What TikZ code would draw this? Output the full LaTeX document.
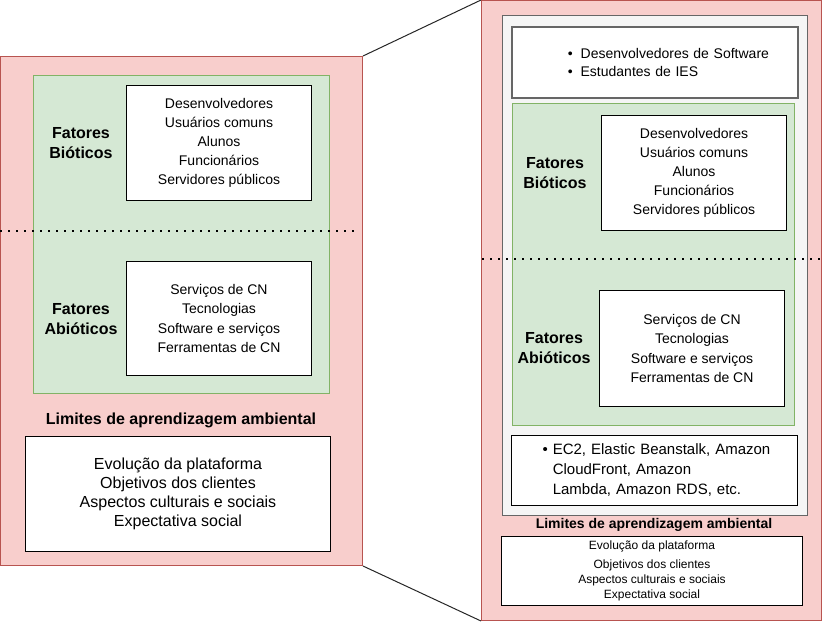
\documentclass[tikz,border=0pt]{standalone}
\usepackage{fontspec}
\setmainfont{Liberation Sans}

\definecolor{pinkfill}{HTML}{F8CECC}
\definecolor{pinkline}{HTML}{B85450}
\definecolor{greenfill}{HTML}{D5E8D4}
\definecolor{greenline}{HTML}{82B366}
\definecolor{grayfill}{HTML}{F5F5F5}
\definecolor{grayline}{HTML}{666666}

\tikzset{
    pinkbox/.style={draw=pinkline, fill=pinkfill, rectangle, line width=1pt, anchor=north west, inner sep=0pt},
    greenbox/.style={draw=greenline, fill=greenfill, rectangle, line width=1pt, anchor=north west, inner sep=0pt},
    graybox/.style={draw=grayline, fill=grayfill, rectangle, line width=1pt, anchor=north west, inner sep=0pt},
    whitebox/.style={draw, fill=white, rectangle, line width=1pt, anchor=north west, align=center, inner sep=0pt},
    fatores/.style={align=center, font=\fontsize{16}{20}\selectfont\bfseries},
    limites/.style={font=\fontsize{16}{20}\selectfont\bfseries},
    dotline/.style={line width=1.6pt, dash pattern=on 1.6pt off 6.4pt},
    zoomline/.style={line width=1pt, black!85}
}

\begin{document}
\begin{tikzpicture}[x=1pt, y=-1pt]
    \useasboundingbox (0,0) rectangle (822,622);

    %Place left pink node
    \node[pinkbox, minimum width=362pt, minimum height=509pt] (pink-left) at (0,56) {};

    %Place left green node
    \node[greenbox, minimum width=296pt, minimum height=318pt] (green-left) at (33,75) {};

    %Place left biotic node
    \node[whitebox, minimum width=185pt, minimum height=115pt, font=\fontsize{14}{19}\selectfont] (bio-left) at (126,85) {Desenvolvedores\\Usuários comuns\\Alunos\\Funcionários\\Servidores públicos};
    \node[fatores] (bio-left-label) at (81,143) {Fatores\\Bióticos};

    %Place left abiotic node
    \node[whitebox, minimum width=185pt, minimum height=114pt, font=\fontsize{14}{19.5}\selectfont] (abio-left) at (126,261) {Serviços de CN\\Tecnologias\\Software e serviços\\Ferramentas de CN};
    \node[fatores] (abio-left-label) at (81,319) {Fatores\\Abióticos};

    %Place left limits node
    \node[limites] (limites-left) at (181,420) {Limites de aprendizagem ambiental};
    \node[whitebox, minimum width=305pt, minimum height=115pt, font=\fontsize{16}{19}\selectfont] (evol-left) at (25,436) {Evolução da plataforma\\Objetivos dos clientes\\Aspectos culturais e sociais\\Expectativa social};

    %Place right pink node
    \node[pinkbox, minimum width=340pt, minimum height=620pt] (pink-right) at (481,0) {};

    %Place right gray node
    \node[graybox, minimum width=305pt, minimum height=500pt] (gray-right) at (502,15) {};

    %Place right audience node
    \node[whitebox, draw=grayline, line width=1.5pt, minimum width=286pt, minimum height=71pt, text width=286pt, align=left, font=\fontsize{14}{18}\selectfont] (public-right) at (511,26) {\hspace*{56pt}•\hspace{8pt}Desenvolvedores de Software\\\hspace*{56pt}•\hspace{8pt}Estudantes de IES};

    %Place right green node
    \node[greenbox, minimum width=282pt, minimum height=322pt] (green-right) at (512,103) {};

    %Place right biotic node
    \node[whitebox, minimum width=185pt, minimum height=115pt, font=\fontsize{14}{19}\selectfont] (bio-right) at (601,115) {Desenvolvedores\\Usuários comuns\\Alunos\\Funcionários\\Servidores públicos};
    \node[fatores] (bio-right-label) at (555,173) {Fatores\\Bióticos};

    %Place right abiotic node
    \node[whitebox, minimum width=185pt, minimum height=116pt, font=\fontsize{14}{19.5}\selectfont] (abio-right) at (599,290) {Serviços de CN\\Tecnologias\\Software e serviços\\Ferramentas de CN};
    \node[fatores] (abio-right-label) at (554,348) {Fatores\\Abióticos};

    %Place right services node
    \node[whitebox, minimum width=286pt, minimum height=70pt, text width=286pt, align=left, font=\fontsize{15}{20}\selectfont] (aws-right) at (511,435) {\hspace*{31pt}•\hspace{5pt}\begin{tabular}[t]{@{}l@{}}EC2, Elastic Beanstalk, Amazon\\CloudFront, Amazon\\Lambda, Amazon RDS, etc.\end{tabular}};

    %Place right limits node
    \node[limites, font=\fontsize{14}{18}\selectfont\bfseries] (limites-right) at (654,525) {Limites de aprendizagem ambiental};
    \node[whitebox, minimum width=301pt, minimum height=69pt, font=\fontsize{12}{15}\selectfont] (evol-right) at (501,536) {Evolução da plataforma\\[4pt]Objetivos dos clientes\\Aspectos culturais e sociais\\Expectativa social};

    %Place dotted divider coordinates
    \coordinate (div-left-a) at (0,231);
    \coordinate (div-left-b) at (358,231);
    \coordinate (div-right-a) at (482,259);
    \coordinate (div-right-b) at (822,259);

    %Draw dotted dividers
    \draw[dotline] (div-left-a) -- (div-left-b);
    \draw[dotline] (div-right-a) -- (div-right-b);

    %Draw zoom lines
    \draw[zoomline] (pink-left.north east) -- (pink-right.north west);
    \draw[zoomline] (pink-left.south east) -- (pink-right.south west);
\end{tikzpicture}
\end{document}
